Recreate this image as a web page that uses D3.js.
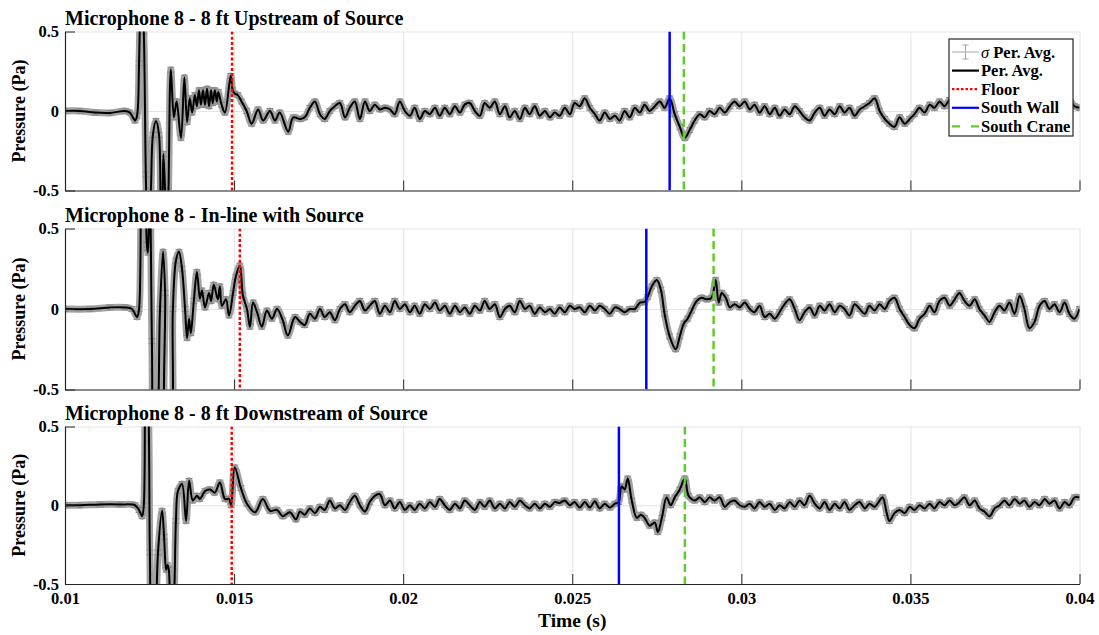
<!DOCTYPE html>
<html>
<head>
<meta charset="utf-8">
<script src="https://cdn.jsdelivr.net/npm/d3@7"></script>
<style>
  body { margin: 0; background: #fff; }
  svg { display: block; }
  text { font-family: "Liberation Serif", "Times New Roman", serif; font-weight: bold; fill: #000; }
</style>
</head>
<body>
<svg id="chart" width="1099" height="635"></svg>
<script>
// ---- Data -------------------------------------------------------------
// Period-averaged pressure at microphone 8, as [time (ms), pressure (Pa)].
const xTicks = [0.01, 0.015, 0.02, 0.025, 0.03, 0.035, 0.04];
const xTickLabels = ["0.01", "0.015", "0.02", "0.025", "0.03", "0.035", "0.04"];
const yTicks = [-0.5, 0, 0.5];
const yTickLabels = ["-0.5", "0", "0.5"];

const panelTitles = [
  "Microphone 8 - 8 ft Upstream of Source",
  "Microphone 8 - In-line with Source",
  "Microphone 8 - 8 ft Downstream of Source"
];

// standard deviation of the period average (Pa)
const sigmaPa = 0.015;

// arrival times of the reflections (s)
const floorTimes = [0.01494, 0.01517, 0.01493];
const southWallTimes = [0.02788, 0.02719, 0.02638];
const southCraneTimes = [0.02830, 0.02918, 0.02833];

const upstreamTrace = [
  [10.00,0.00],[10.44,0.00],[10.89,-0.01],[11.33,-0.012],[11.77,0.00],[11.92,-0.01],[12.07,-0.06],[12.13,-0.03],
  [12.19,0.30],[12.25,0.90],[12.33,0.50],[12.39,-0.40],[12.45,-0.90],[12.54,-0.50],[12.60,-0.15],[12.69,-0.063],
  [12.78,-0.15],[12.84,-0.70],[12.88,-0.60],[12.91,-0.27],[12.96,-0.50],[13.01,-0.90],[13.06,-0.50],[13.13,0.26],
  [13.22,-0.04],[13.30,0.06],[13.43,-0.17],[13.53,0.21],[13.61,-0.07],[13.69,0.08],[13.76,-0.01],[13.84,0.10],
  [13.90,0.03],[13.96,0.13],[14.02,0.04],[14.08,0.13],[14.14,0.04],[14.20,0.14],[14.26,0.03],[14.32,0.13],
  [14.37,0.05],[14.43,0.13],[14.49,0.06],[14.53,0.12],[14.63,0.04],[14.73,-0.01],[14.90,0.22],[14.96,0.13],
  [15.02,0.11],[15.11,0.10],[15.22,0.06],[15.37,0.00],[15.52,-0.08],[15.71,0.01],[15.86,-0.06],[16.06,0.00],
  [16.21,-0.06],[16.35,-0.01],[16.60,-0.13],[16.75,-0.04],
  [16.95,-0.05],[17.09,-0.04],[17.24,0.02],[17.39,0.06],[17.54,-0.02],[17.68,-0.05],[17.83,0.00],[17.98,0.03],
  [18.13,0.05],[18.28,-0.04],[18.42,0.02],[18.57,0.06],[18.72,-0.05],[18.87,0.06],[19.01,0.00],[19.16,0.04],
  [19.31,0.01],[19.46,0.02],[19.61,0.01],[19.75,-0.02],[19.90,0.06],[20.05,0.00],[20.20,-0.03],[20.34,0.02],
  [20.49,-0.05],[20.64,0.00],[20.79,-0.02],[20.94,0.02],[21.08,-0.03],[21.23,0.02],[21.38,-0.02],[21.53,0.03],
  [21.68,-0.01],[21.82,0.04],[21.97,0.05],[22.12,0.00],[22.27,-0.03],[22.41,0.05],[22.56,0.02],[22.71,0.06],
  [22.86,-0.02],[23.01,0.03],[23.15,-0.04],[23.30,0.00],[23.45,-0.05],[23.60,0.02],[23.74,-0.02],[23.89,0.03],
  [24.04,-0.03],[24.19,0.00],[24.34,-0.04],[24.48,-0.01],[24.63,-0.03],[24.78,0.02],[24.93,-0.02],[25.07,0.05],
  [25.22,0.03],[25.37,0.08],[25.52,0.02],[25.67,-0.02],[25.81,-0.06],[25.96,-0.01],[26.11,-0.05],[26.26,-0.03],
  [26.40,-0.06],[26.55,0.00],[26.70,-0.04],[26.85,0.02],[27.00,-0.01],[27.14,0.04],[27.29,0.00],[27.44,0.03],
  [27.59,0.06],[27.73,0.02],[27.88,0.08],[28.03,-0.02],[28.18,-0.10],[28.33,-0.17],[28.47,-0.12],[28.62,-0.06],
  [28.77,-0.02],[28.92,-0.04],[29.06,0.00],[29.21,-0.02],[29.36,0.02],[29.51,-0.01],[29.66,0.03],[29.80,0.06],
  [29.95,0.03],[30.10,0.06],[30.25,0.01],[30.39,0.04],[30.54,-0.01],[30.69,0.03],[30.84,-0.02],[30.99,0.02],
  [31.13,-0.03],[31.28,0.01],[31.43,-0.02],[31.58,0.03],[31.72,0.00],[31.87,-0.04],[32.02,-0.06],[32.17,-0.01],
  [32.32,0.02],[32.46,-0.03],[32.61,0.01],[32.76,-0.02],[32.91,0.03],[33.05,-0.01],[33.20,0.02],[33.35,-0.03],
  [33.50,0.01],[33.65,0.03],[33.79,0.05],[33.94,0.08],[34.09,0.00],[34.24,-0.05],[34.38,-0.08],[34.53,-0.10],
  [34.68,-0.04],[34.83,-0.08],[34.98,-0.05],[35.12,-0.02],[35.27,0.02],[35.42,-0.01],[35.57,0.04],[35.71,0.02],
  [35.86,0.06],[36.01,0.03],[36.16,0.07],[36.31,0.05],[36.45,0.11],[36.60,0.08],[36.75,0.04],[36.90,0.00],
  [37.04,0.05],[37.19,0.02],[37.34,-0.02],[37.49,0.03],[37.64,0.00],[37.78,0.04],[37.93,0.01],[38.08,0.05],
  [38.23,0.00],[38.37,-0.02],[38.52,0.03],[38.67,0.06],[38.82,0.02],[38.97,0.04],[39.11,0.00],[39.26,0.03],
  [39.41,0.05],[39.56,0.02],[39.70,0.07],[39.85,0.03],[40.00,0.02]
];

const inlineTrace = [
  [10.00,0.00],[10.74,0.00],[11.33,0.01],[11.77,0.01],[11.98,0.00],[12.13,-0.05],[12.19,0.00],[12.28,0.90],
  [12.36,0.80],[12.42,0.40],[12.45,0.35],[12.48,0.50],[12.51,0.80],[12.57,-0.20],[12.63,-0.90],[12.72,-0.80],
  [12.81,0.00],[12.90,0.355],[12.96,0.10],[13.01,-0.80],[13.10,-0.80],[13.19,0.00],[13.28,0.30],[13.37,0.355],
  [13.46,0.25],[13.55,0.00],[13.61,-0.18],[13.67,-0.06],[13.72,-0.15],[13.81,0.05],[13.90,0.23],[13.99,0.065],
  [14.05,0.115],[14.14,0.01],[14.26,0.10],[14.32,0.05],[14.40,0.15],[14.52,0.06],[14.58,0.14],[14.64,0.02],
  [14.76,0.06],[14.85,-0.04],[14.97,0.10],[15.05,0.20],[15.17,0.27],[15.26,0.085],[15.38,0.00],[15.47,-0.11],
  [15.56,0.04],[15.68,-0.02],[15.82,-0.11],[15.97,-0.01],[16.12,-0.06],[16.27,0.00],[16.44,-0.07],[16.59,-0.165],
  [16.80,-0.05],
  [16.95,-0.08],[17.09,-0.10],[17.24,-0.03],[17.39,-0.06],[17.54,0.00],[17.68,-0.05],[17.83,-0.02],[17.98,-0.07],
  [18.13,0.00],[18.28,0.03],[18.42,-0.02],[18.57,0.02],[18.72,0.05],[18.87,-0.01],[19.01,0.02],[19.16,0.05],
  [19.31,-0.03],[19.46,0.02],[19.61,-0.02],[19.75,0.05],[19.90,0.00],[20.05,0.03],[20.20,-0.02],[20.34,0.02],
  [20.49,-0.03],[20.64,0.03],[20.79,0.00],[20.94,0.04],[21.08,-0.01],[21.23,0.02],[21.38,-0.03],[21.53,0.02],
  [21.68,-0.02],[21.82,0.01],[21.97,-0.03],[22.12,0.02],[22.27,-0.01],[22.41,0.05],[22.56,0.00],[22.71,0.03],
  [22.86,-0.05],[23.01,0.00],[23.15,0.02],[23.30,-0.02],[23.45,0.05],[23.60,0.00],[23.74,0.02],[23.89,-0.03],
  [24.04,0.01],[24.19,-0.02],[24.34,0.00],[24.48,-0.03],[24.63,0.01],[24.78,-0.02],[24.93,0.02],[25.07,0.00],
  [25.22,0.01],[25.37,-0.02],[25.52,0.02],[25.67,-0.01],[25.81,0.02],[25.96,0.00],[26.11,-0.03],[26.26,0.01],
  [26.40,0.00],[26.55,-0.02],[26.70,0.00],[26.85,0.00],[27.00,0.04],[27.14,0.045],
  [27.23,0.075],[27.35,0.14],[27.50,0.18],[27.62,0.12],[27.73,-0.03],[27.88,-0.17],[28.06,-0.25],[28.18,-0.17],
  [28.30,-0.09],[28.41,-0.06],[28.53,-0.01],[28.68,0.05],[28.83,0.07],[28.98,0.06],[29.12,0.07],[29.24,0.18],
  [29.33,0.04],[29.42,0.10],[29.54,0.07],[29.66,0.01],[29.80,0.03],[29.95,0.01],[30.10,0.04],[30.25,0.00],
  [30.39,-0.02],[30.54,0.02],[30.69,-0.05],[30.84,-0.03],[30.99,-0.06],
  [31.13,-0.02],[31.28,0.03],[31.43,0.06],[31.58,0.00],[31.72,-0.07],[31.87,-0.02],[32.02,0.01],[32.17,-0.04],
  [32.32,0.02],[32.46,-0.01],[32.61,0.03],[32.76,-0.02],[32.91,0.02],[33.05,0.00],[33.20,-0.04],[33.35,0.03],
  [33.50,0.00],[33.65,-0.03],[33.79,0.02],[33.94,-0.01],[34.09,0.03],[34.24,0.00],[34.38,0.05],[34.53,0.07],
  [34.68,0.00],[34.83,-0.05],[34.98,-0.10],[35.12,-0.12],[35.27,-0.06],[35.42,-0.03],[35.57,0.02],[35.71,-0.02],
  [35.86,0.05],[36.01,0.07],[36.16,0.02],[36.31,0.06],[36.45,0.10],[36.60,0.05],[36.75,0.02],[36.90,0.06],
  [37.04,0.00],[37.19,-0.04],[37.34,-0.08],[37.49,-0.02],[37.64,0.02],[37.78,-0.01],[37.93,0.04],[38.08,-0.03],
  [38.23,0.08],[38.37,0.00],[38.52,-0.12],[38.67,-0.08],[38.82,0.02],[38.97,0.05],[39.11,0.00],[39.26,0.03],
  [39.41,-0.02],[39.56,0.04],[39.70,-0.03],[39.85,-0.06],[40.00,0.00]
];

const downstreamTrace = [
  [10.00,0.00],[10.44,0.00],[11.03,0.005],[11.63,0.005],[12.07,0.00],[12.19,-0.03],[12.28,-0.07],[12.33,0.00],
  [12.39,0.80],[12.45,0.70],[12.51,-0.30],[12.57,-0.90],[12.66,-0.80],[12.75,-0.30],[12.87,-0.035],[12.93,-0.20],
  [12.99,-0.41],[13.03,-0.38],[13.07,-0.41],[13.13,-0.80],[13.22,-0.60],[13.28,-0.10],[13.34,0.09],[13.46,0.135],
  [13.58,-0.10],[13.67,0.155],[13.78,0.03],[13.90,0.06],[13.99,0.04],[14.14,0.09],[14.29,0.10],[14.43,0.08],
  [14.58,0.145],[14.73,0.04],[14.85,0.04],[14.91,0.00],[15.02,0.24],[15.20,0.11],[15.38,0.01],[15.62,-0.045],
  [15.85,0.04],[16.06,-0.035],[16.27,-0.03],[16.44,-0.07],[16.65,-0.045],[16.83,-0.09],
  [16.95,-0.04],[17.09,-0.06],[17.24,-0.02],[17.39,-0.05],[17.54,-0.01],[17.68,-0.03],[17.83,0.03],[17.98,-0.02],
  [18.13,0.00],[18.28,-0.03],[18.42,0.02],[18.57,0.06],[18.72,0.00],[18.87,-0.04],[19.01,0.02],[19.16,0.06],
  [19.31,0.07],[19.46,0.00],[19.61,0.03],[19.75,-0.02],[19.90,0.02],[20.05,-0.03],[20.20,0.00],[20.34,-0.03],
  [20.49,0.01],[20.64,-0.02],[20.79,0.02],[20.94,-0.01],[21.08,0.04],[21.23,0.00],[21.38,-0.03],[21.53,0.01],
  [21.68,-0.02],[21.82,0.03],[21.97,0.00],[22.12,-0.03],[22.27,0.02],[22.41,-0.01],[22.56,0.03],[22.71,-0.02],
  [22.86,0.01],[23.01,-0.02],[23.15,0.02],[23.30,-0.01],[23.45,0.03],[23.60,0.00],[23.74,-0.02],[23.89,0.01],
  [24.04,-0.02],[24.19,0.01],[24.34,-0.01],[24.48,0.02],[24.63,0.015],[24.78,0.03],[24.93,0.00],[25.07,0.02],
  [25.22,-0.015],[25.37,0.02],[25.52,-0.015],[25.67,0.025],[25.81,-0.02],[25.96,0.01],[26.11,-0.015],[26.26,0.01],
  [26.37,0.02],[26.46,0.12],[26.55,0.10],[26.64,0.17],[26.76,0.03],[26.91,-0.08],[27.03,-0.06],[27.14,-0.08],
  [27.29,-0.13],[27.44,-0.11],[27.53,-0.17],[27.65,-0.08],[27.79,0.05],[27.91,0.00],[28.03,0.05],[28.18,0.10],
  [28.33,0.17],[28.44,0.06],[28.62,0.03],
  [28.77,0.05],[28.92,0.02],[29.06,0.05],[29.21,0.03],[29.36,0.05],[29.51,-0.01],[29.66,0.02],[29.80,0.03],
  [29.95,0.00],[30.10,-0.01],[30.25,0.01],[30.39,-0.02],[30.54,0.02],[30.69,-0.01],[30.84,0.01],[30.99,-0.03],
  [31.13,0.00],[31.28,-0.02],[31.43,0.02],[31.58,-0.01],[31.72,0.03],[31.87,0.00],[32.02,0.06],[32.17,0.01],
  [32.32,-0.02],[32.46,0.02],[32.61,-0.03],[32.76,0.01],[32.91,-0.02],[33.05,0.02],[33.20,-0.03],[33.35,0.00],
  [33.50,0.02],[33.65,-0.02],[33.79,0.01],[33.94,-0.01],[34.09,0.03],[34.18,0.05],[34.30,-0.05],[34.38,-0.10],
  [34.53,-0.05],[34.68,-0.03],[34.83,-0.05],[34.98,-0.01],[35.12,-0.03],[35.27,0.00],[35.42,-0.02],[35.57,0.01],
  [35.71,-0.02],[35.86,0.02],[36.01,0.00],[36.16,0.03],[36.31,0.00],[36.45,0.02],[36.60,0.05],[36.75,0.00],
  [36.90,0.03],[37.04,-0.02],[37.19,-0.04],[37.34,-0.07],[37.49,-0.02],[37.64,0.00],[37.78,0.03],[37.93,0.00],
  [38.08,0.04],[38.23,0.01],[38.37,0.03],[38.52,-0.01],[38.67,0.02],[38.82,0.00],[38.97,0.04],[39.11,0.01],
  [39.26,0.03],[39.41,-0.02],[39.56,0.02],[39.70,0.00],[39.85,0.05],[40.00,0.05]
];

const traces = [upstreamTrace, inlineTrace, downstreamTrace];
const legendLabels = ["Per. Avg.", "Per. Avg.", "Floor", "South Wall", "South Crane"];

// ---- Layout -----------------------------------------------------------
const plotLeft = 65, plotRight = 1079.5;
const panelBoxes = [
  { top: 31.5, bottom: 190.5 },
  { top: 228.5, bottom: 389.5 },
  { top: 426.5, bottom: 584 }
];
const colors = {
  axis: "#262626", grid: "#e4e4e4", trace: "#000000", sigma: "#a2a2a2",
  floor: "#ff0000", wall: "#0000ff", crane: "#5fcc2b"
};

const svg = d3.select("#chart");
const x = d3.scaleLinear().domain([0.01, 0.04]).range([plotLeft, plotRight]);
const tSec = d => d[0] / 1000;

panelBoxes.forEach((box, i) => {
  const h = box.bottom - box.top;
  const y = d3.scaleLinear().domain([-0.5, 0.5]).range([box.bottom, box.top]);
  const g = svg.append("g");

  // grid
  g.append("g")
    .attr("transform", `translate(0,${box.bottom})`)
    .call(d3.axisBottom(x).tickValues(xTicks).tickSize(-h).tickFormat(""))
    .call(s => { s.select(".domain").remove(); s.selectAll("line").attr("stroke", colors.grid); });
  g.append("g")
    .attr("transform", `translate(${plotLeft},0)`)
    .call(d3.axisLeft(y).tickValues(yTicks).tickSize(-(plotRight - plotLeft)).tickFormat(""))
    .call(s => { s.select(".domain").remove(); s.selectAll("line").attr("stroke", colors.grid); });

  // clip region for the data
  svg.append("clipPath").attr("id", "plot-clip-" + i)
    .append("rect").attr("x", plotLeft).attr("y", box.top)
    .attr("width", plotRight - plotLeft).attr("height", h);
  const data = traces[i];
  const dg = g.append("g").attr("clip-path", `url(#plot-clip-${i})`);

  const line = d3.line().x(d => x(tSec(d))).y(d => y(d[1])).curve(d3.curveCatmullRom.alpha(0.5));

  // standard deviation: band around the trace plus error bars
  dg.append("path").datum(data).attr("d", line)
    .attr("fill", "none").attr("stroke", colors.sigma).attr("stroke-width", 7)
    .attr("stroke-linejoin", "round").attr("stroke-linecap", "round");
  const eb = dg.append("g").attr("stroke", "#8a8a8a").attr("stroke-width", 1);
  eb.selectAll("path.eb").data(data).join("path").attr("class", "eb")
    .attr("d", d => {
      const cx = x(tSec(d)), y1 = y(d[1] + sigmaPa), y0 = y(d[1] - sigmaPa);
      return `M${cx},${y0}V${y1}M${cx - 3.5},${y0}H${cx + 3.5}M${cx - 3.5},${y1}H${cx + 3.5}`;
    });

  // period average
  dg.append("path").datum(data).attr("d", line)
    .attr("fill", "none").attr("stroke", colors.trace).attr("stroke-width", 2)
    .attr("stroke-linejoin", "round");

  // reflection arrival markers
  const markers = [
    { t: floorTimes[i], c: colors.floor, dash: "3,2.2" },
    { t: southWallTimes[i], c: colors.wall, dash: null },
    { t: southCraneTimes[i], c: colors.crane, dash: "8,4.5" }
  ];
  markers.forEach(m => {
    dg.append("line").attr("x1", x(m.t)).attr("x2", x(m.t))
      .attr("y1", box.top).attr("y2", box.bottom)
      .attr("stroke", m.c).attr("stroke-width", 2.5)
      .attr("stroke-dasharray", m.dash);
  });

  // axes with inward ticks
  const xAxis = d3.axisBottom(x).tickValues(xTicks).tickSizeInner(-10).tickSizeOuter(0).tickPadding(8)
    .tickFormat((d, k) => i === 2 ? xTickLabels[k] : "");
  g.append("g").attr("transform", `translate(0,${box.bottom})`).call(xAxis)
    .call(s => {
      s.select(".domain").attr("stroke", colors.axis).attr("stroke-width", 1.2);
      s.selectAll(".tick line").attr("stroke", colors.axis);
      s.selectAll("text").attr("font-size", 16.5).attr("font-family", null).attr("fill", "#000");
    });
  const yAxis = d3.axisLeft(y).tickValues(yTicks).tickSizeInner(-10).tickSizeOuter(0).tickPadding(6)
    .tickFormat((d, k) => yTickLabels[k]);
  g.append("g").attr("transform", `translate(${plotLeft},0)`).call(yAxis)
    .call(s => {
      s.select(".domain").attr("stroke", colors.axis).attr("stroke-width", 1.2);
      s.selectAll(".tick line").attr("stroke", colors.axis);
      s.selectAll("text").attr("font-size", 16.5).attr("font-family", null).attr("fill", "#000");
    });

  // title and y label
  svg.append("text").attr("x", plotLeft).attr("y", box.top - 6.5)
    .attr("font-size", 20).text(panelTitles[i]);
  svg.append("text")
    .attr("transform", `translate(25,${(box.top + box.bottom) / 2}) rotate(-90)`)
    .attr("text-anchor", "middle").attr("font-size", 18).text("Pressure (Pa)");
});

// x label
svg.append("text").attr("x", (plotLeft + plotRight) / 2).attr("y", 627)
  .attr("text-anchor", "middle").attr("font-size", 19.5).text("Time (s)");

// ---- Legend (top panel) -----------------------------------------------
const lg = svg.append("g").attr("transform", "translate(949,39)");
lg.append("rect").attr("x", 0).attr("y", 0).attr("width", 124).attr("height", 97)
  .attr("fill", "#fff").attr("stroke", colors.axis).attr("stroke-width", 1.2);
const rowY = k => 13 + k * 18.6;
const sx0 = 3, sx1 = 30;
legendLabels.forEach((label, k) => {
  const yy = rowY(k);
  if (k === 0) {
    lg.append("line").attr("x1", sx0).attr("x2", sx1).attr("y1", yy).attr("y2", yy)
      .attr("stroke", "#a6a6a6").attr("stroke-width", 1);
    const mx = (sx0 + sx1) / 2;
    lg.append("path").attr("d", `M${mx},${yy - 7}V${yy + 7}M${mx - 3},${yy - 7}H${mx + 3}M${mx - 3},${yy + 7}H${mx + 3}`)
      .attr("stroke", "#a6a6a6").attr("stroke-width", 1).attr("fill", "none");
  } else {
    const style = [null,
      { c: colors.trace, dash: null },
      { c: colors.floor, dash: "2.5,2" },
      { c: colors.wall, dash: null },
      { c: colors.crane, dash: "8,11" }][k];
    lg.append("line").attr("x1", sx0).attr("x2", sx1).attr("y1", yy).attr("y2", yy)
      .attr("stroke", style.c).attr("stroke-width", 2.2).attr("stroke-dasharray", style.dash);
  }
  const t = lg.append("text").attr("x", 32).attr("y", yy + 5.5).attr("font-size", 16.5);
  if (k === 0) {
    t.append("tspan").attr("font-style", "italic").attr("font-weight", "normal").text("σ");
    t.append("tspan").text(" " + label);
  } else {
    t.text(label);
  }
});
</script>
</body>
</html>
